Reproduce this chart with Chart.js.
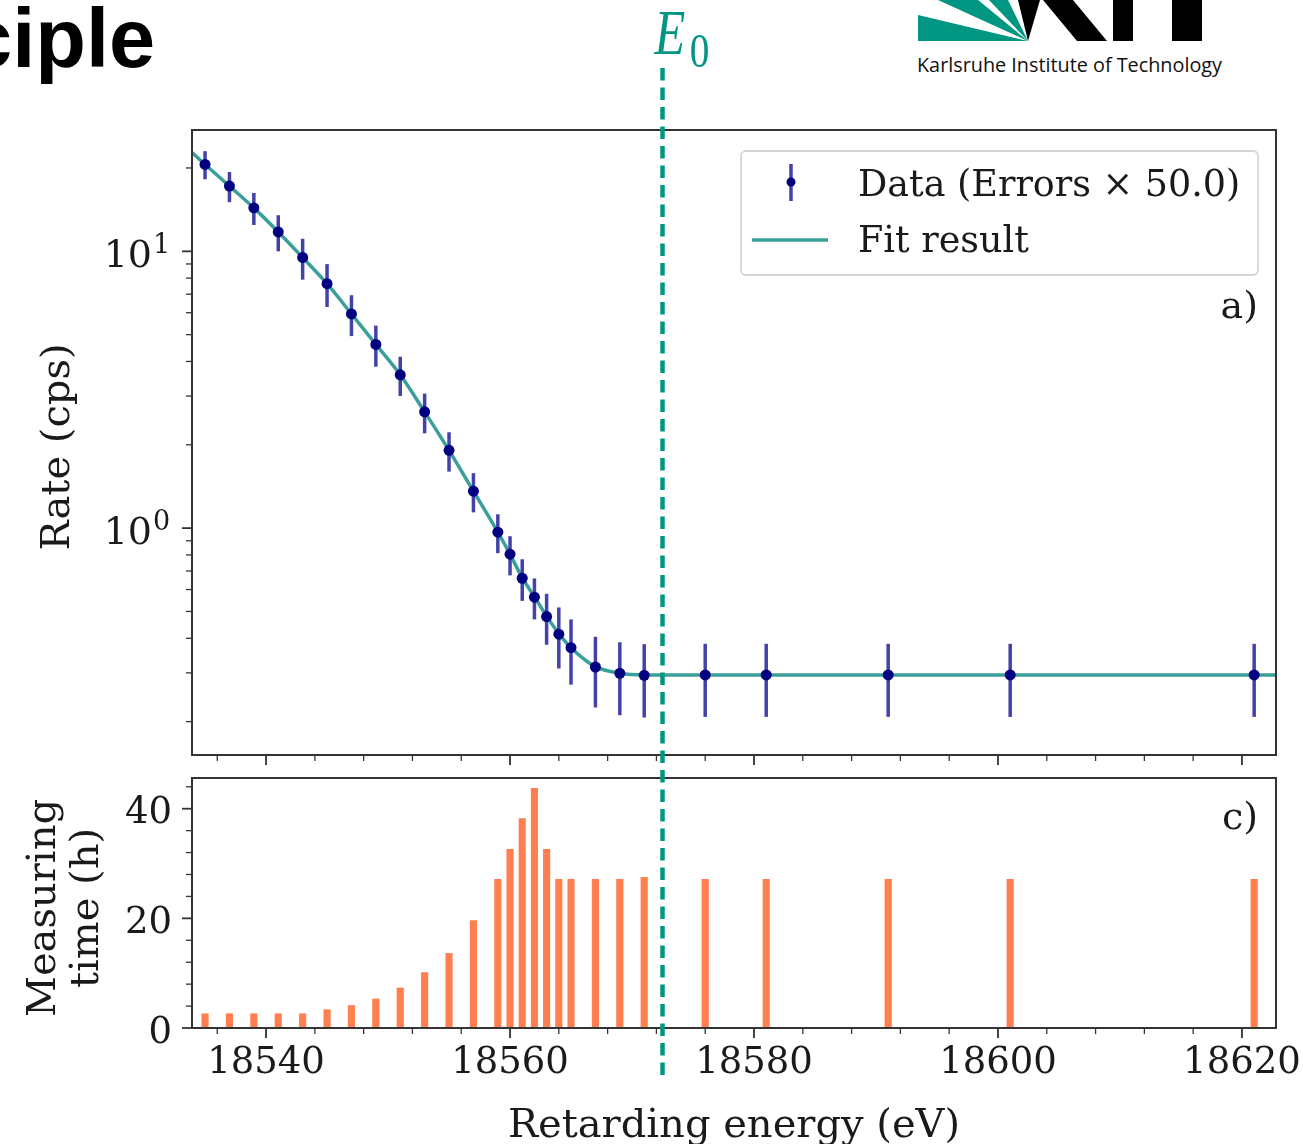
<!DOCTYPE html>
<html>
<head>
<meta charset="utf-8">
<script src="https://cdn.jsdelivr.net/npm/chart.js@4.4.1/dist/chart.umd.min.js"></script>
<style>
  html, body { margin: 0; padding: 0; background: #fff; }
  #page { position: relative; width: 1303px; height: 1144px; overflow: hidden; }
  #page svg, #page canvas { position: absolute; left: 0; top: 0; }
  #deco { z-index: 0; }
  #timeChart { z-index: 1; }
  #rateChart { z-index: 2; }
</style>
</head>
<body>
<div id="page">
  <svg id="deco" width="1303" height="1144">
    <text x="-34" y="67" font-family="Liberation Sans" font-weight="bold" font-size="83" fill="#000">ciple</text>
    <!-- KIT logo (top cut off) -->
    <polygon points="918,15 1028,41 918,41" fill="#009682"/>
    <polygon points="938,0 978,0 1028,41" fill="#009682"/>
    <polygon points="989,0 1008,0 1028,41" fill="#009682"/>
    <polygon points="1018,0 1040,0 1028,41" fill="#000"/>
    <polygon points="1043,0 1073,0 1107,41 1077,41" fill="#000"/>
    <rect x="1113" y="0" width="20" height="41" fill="#000"/>
    <rect x="1172" y="0" width="30" height="41" fill="#000"/>
    <text x="917" y="72" font-family="Open Sans" font-size="20" fill="#111" textLength="305" lengthAdjust="spacingAndGlyphs">Karlsruhe Institute of Technology</text>
  </svg>
  <canvas id="timeChart" width="1303" height="1144"></canvas>
  <canvas id="rateChart" width="1303" height="1144"></canvas>
</div>

<script>
// --- data ---
const energyEv = [18535, 18537, 18539, 18541, 18543, 18545, 18547, 18549, 18551, 18553, 18555, 18557, 18559,
                  18560, 18561, 18562, 18563, 18564, 18565, 18567, 18569, 18571, 18576, 18581, 18591, 18601, 18621];
const rateCps = [20.6, 17.2, 14.35, 11.75, 9.5, 7.64, 5.94, 4.61, 3.58, 2.63, 1.91, 1.36, 0.967,
                 0.805, 0.659, 0.563, 0.479, 0.414, 0.370, 0.315, 0.299, 0.294, 0.295, 0.295, 0.295, 0.295, 0.295];
// error bars (already x 50)
const rateErr = [2.4, 2.15, 1.9, 1.75, 1.6, 1.35, 1.0, 0.78, 0.58, 0.43, 0.31, 0.22, 0.155,
                 0.13, 0.113, 0.095, 0.10, 0.103, 0.098, 0.09, 0.088, 0.087, 0.087, 0.087, 0.087, 0.087, 0.087];
const timeHours = [2.6, 2.6, 2.6, 2.6, 2.6, 3.35, 4.1, 5.3, 7.3, 10.1, 13.6, 19.6, 27.1,
                   32.6, 38.2, 43.7, 32.6, 27.1, 27.1, 27.1, 27.1, 27.5, 27.1, 27.1, 27.1, 27.1, 27.1];
const fitEnergy = [18533.9, 18535, 18537, 18539, 18541, 18543, 18545, 18547, 18549, 18551, 18553, 18555, 18557,
                   18559, 18560, 18561, 18562, 18563, 18564, 18565, 18567, 18569, 18571, 18574, 18623];
const fitRate = [22.8, 20.6, 17.2, 14.35, 11.75, 9.5, 7.64, 5.94, 4.61, 3.58, 2.63, 1.91, 1.36,
                 0.967, 0.805, 0.662, 0.565, 0.481, 0.416, 0.37, 0.316, 0.299, 0.295, 0.295, 0.295];

const xTickValues = [18540, 18560, 18580, 18600, 18620];
const rateTickValues = [1, 10];
const rateTickLabels = [["10", "0"], ["10", "1"]];
const timeTickValues = [0, 20, 40];
const E0 = 18572.5;

// --- look ---
const serif = '"DejaVu Serif", serif';
const ink = "#1a1a1a";
const spine = "#333";
const navy = "#000080";
const errColor = "#4242a8";
const fitColor = "#3a9f9b";
const barColor = "#ff7f50";
const kitGreen = "#009682";
const X_MIN = 18533.93, X_MAX = 18622.79;

function drawFrame(ctx, a) {
  ctx.save();
  ctx.strokeStyle = spine;
  ctx.lineWidth = 2;
  ctx.strokeRect(a.left, a.top, a.right - a.left, a.bottom - a.top);
  ctx.restore();
}

function tick(ctx, x1, y1, x2, y2, w) {
  ctx.lineWidth = w;
  ctx.beginPath();
  ctx.moveTo(x1, y1);
  ctx.lineTo(x2, y2);
  ctx.stroke();
}

function drawEnergyTicks(ctx, chart) {
  const xs = chart.scales.x, a = chart.chartArea;
  ctx.save();
  ctx.strokeStyle = spine;
  for (let v = 18536; v <= X_MAX; v += 4) {
    const px = xs.getPixelForValue(v);
    const major = v % 20 === 0;
    tick(ctx, px, a.bottom, px, a.bottom + (major ? 10 : 6), major ? 1.8 : 1.3);
  }
  ctx.restore();
}

// ---------------- top panel: rate ----------------
const rateDecor = {
  id: "rateDecor",
  beforeDatasetDraw(chart, args) {
    if (args.index !== 1) return;
    const { ctx, chartArea: a, scales: { x, y } } = chart;
    ctx.save();
    ctx.beginPath();
    ctx.rect(a.left, a.top, a.right - a.left, a.bottom - a.top);
    ctx.clip();
    ctx.strokeStyle = errColor;
    ctx.lineWidth = 3.5;
    energyEv.forEach((e, i) => {
      const px = x.getPixelForValue(e);
      ctx.beginPath();
      ctx.moveTo(px, y.getPixelForValue(rateCps[i] + rateErr[i]));
      ctx.lineTo(px, y.getPixelForValue(rateCps[i] - rateErr[i]));
      ctx.stroke();
    });
    ctx.restore();
  },
  afterDraw(chart) {
    const { ctx, chartArea: a, scales: { x, y } } = chart;
    drawFrame(ctx, a);
    drawEnergyTicks(ctx, chart);

    // log ticks
    ctx.save();
    ctx.strokeStyle = spine;
    [0.1, 1, 10].forEach(dec => {
      for (let m = 1; m < 10; m++) {
        const v = m * dec;
        if (v < y.min || v > y.max) continue;
        const py = y.getPixelForValue(v);
        const major = m === 1;
        tick(ctx, a.left, py, a.left - (major ? 10 : 6), py, major ? 1.8 : 1.3);
      }
    });
    ctx.fillStyle = ink;
    rateTickValues.forEach((v, i) => {
      const py = y.getPixelForValue(v);
      ctx.font = "38px " + serif;
      ctx.textAlign = "right";
      ctx.textBaseline = "alphabetic";
      ctx.fillText(rateTickLabels[i][0], 152, py + 16);
      ctx.font = "27px " + serif;
      ctx.textAlign = "left";
      ctx.fillText(rateTickLabels[i][1], 153, py + 2);
    });

    // y title
    ctx.font = "40px " + serif;
    ctx.textAlign = "center";
    ctx.translate(69, 447);
    ctx.rotate(-Math.PI / 2);
    ctx.fillText("Rate (cps)", 0, 0);
    ctx.restore();

    // legend
    ctx.save();
    ctx.fillStyle = "rgba(255,255,255,0.8)";
    ctx.strokeStyle = "#d5d5d5";
    ctx.lineWidth = 1.8;
    ctx.beginPath();
    ctx.roundRect(741, 151, 517, 124, 5);
    ctx.fill();
    ctx.stroke();
    ctx.strokeStyle = errColor;
    tick(ctx, 791, 164, 791, 201, 3.5);
    ctx.fillStyle = navy;
    ctx.beginPath();
    ctx.arc(791, 182, 4.5, 0, Math.PI * 2);
    ctx.fill();
    ctx.strokeStyle = fitColor;
    tick(ctx, 752, 240, 828, 240, 3.5);
    ctx.fillStyle = ink;
    ctx.font = "36.5px " + serif;
    ctx.textAlign = "left";
    ctx.textBaseline = "alphabetic";
    ctx.fillText(chart.data.datasets[1].label, 858, 196);
    ctx.fillText(chart.data.datasets[0].label, 858, 252);
    ctx.font = "38px " + serif;
    ctx.textAlign = "right";
    ctx.fillText("a)", 1258, 318);
    ctx.restore();

    // E0 marker spanning both panels
    const ex = x.getPixelForValue(E0);
    ctx.save();
    ctx.strokeStyle = kitGreen;
    ctx.lineWidth = 4.5;
    ctx.setLineDash([12.5, 7]);
    ctx.beginPath();
    ctx.moveTo(ex, 68);
    ctx.lineTo(ex, 1078);
    ctx.stroke();
    ctx.fillStyle = kitGreen;
    ctx.textBaseline = "alphabetic";
    ctx.textAlign = "left";
    ctx.translate(ex - 8, 54);
    ctx.scale(0.8, 1);
    ctx.font = "italic 63px \"Liberation Serif\", serif";
    ctx.fillText("E", 0, 0);
    ctx.font = "49px \"Liberation Serif\", serif";
    ctx.fillText("0", 44, 13);
    ctx.restore();
  }
};

new Chart(document.getElementById("rateChart"), {
  type: "scatter",
  data: {
    datasets: [
      {
        type: "line",
        label: "Fit result",
        data: fitEnergy.map((e, i) => ({ x: e, y: fitRate[i] })),
        borderColor: fitColor,
        borderWidth: 3.5,
        pointRadius: 0,
        cubicInterpolationMode: "monotone",
        fill: false,
        order: 2
      },
      {
        label: "Data (Errors \u00d7 50.0)",
        data: energyEv.map((e, i) => ({ x: e, y: rateCps[i] })),
        backgroundColor: navy,
        borderColor: navy,
        borderWidth: 0,
        pointRadius: 5.5,
        order: 1
      }
    ]
  },
  options: {
    responsive: false,
    animation: false,
    events: [],
    layout: { padding: { left: 92, right: 27, top: 130, bottom: 369 } },
    plugins: { legend: { display: false }, tooltip: { enabled: false } },
    scales: {
      x: {
        type: "linear", min: X_MIN, max: X_MAX, bounds: "data",
        grid: { display: false, drawTicks: false }, border: { display: false },
        ticks: { display: false },
        afterBuildTicks: s => { s.ticks = xTickValues.map(v => ({ value: v })); },
        afterFit: s => { s.height = 20; s.paddingLeft = 0; s.paddingRight = 0; }
      },
      y: {
        type: "logarithmic", min: 0.1515, max: 27.43, bounds: "data",
        grid: { display: false, drawTicks: false }, border: { display: false },
        ticks: { display: false },
        afterBuildTicks: s => { s.ticks = rateTickValues.map(v => ({ value: v })); },
        afterFit: s => { s.width = 100; s.paddingTop = 0; s.paddingBottom = 0; }
      }
    }
  },
  plugins: [rateDecor]
});

// ---------------- bottom panel: measuring time ----------------
const timeDecor = {
  id: "timeDecor",
  afterDraw(chart) {
    const { ctx, chartArea: a, scales: { y } } = chart;
    drawFrame(ctx, a);
    drawEnergyTicks(ctx, chart);
    ctx.save();
    ctx.strokeStyle = spine;
    for (let v = 0; v <= y.max; v += 4) {
      const py = y.getPixelForValue(v);
      const major = v % 20 === 0;
      tick(ctx, a.left, py, a.left - (major ? 10 : 6), py, major ? 1.8 : 1.3);
    }
    ctx.fillStyle = ink;
    ctx.font = "38px " + serif;
    ctx.textAlign = "right";
    ctx.textBaseline = "alphabetic";
    ctx.fillText("c)", 1258, 829);

    ctx.font = "40px " + serif;
    ctx.textAlign = "center";
    ctx.fillText("Retarding energy (eV)", 734, 1137);
    ctx.translate(0, 908);
    ctx.rotate(-Math.PI / 2);
    ctx.fillText("Measuring", 0, 55);
    ctx.fillText("time (h)", 0, 98);
    ctx.restore();
  }
};

new Chart(document.getElementById("timeChart"), {
  type: "bar",
  data: {
    datasets: [{
      label: "Measuring time",
      data: energyEv.map((e, i) => ({ x: e, y: timeHours[i] })),
      backgroundColor: barColor,
      borderWidth: 0,
      barThickness: 6.5
    }]
  },
  options: {
    responsive: false,
    animation: false,
    events: [],
    layout: { padding: { left: 92, right: 27, top: 778, bottom: 0 } },
    plugins: { legend: { display: false }, tooltip: { enabled: false } },
    scales: {
      x: {
        type: "linear", min: X_MIN, max: X_MAX, bounds: "data", offset: false,
        grid: { display: false, drawTicks: false, offset: false }, border: { display: false },
        ticks: { color: ink, font: { family: serif, size: 37 }, padding: 13, maxRotation: 0, autoSkip: false,
                 callback: v => String(v) },
        afterBuildTicks: s => { s.ticks = xTickValues.map(v => ({ value: v })); },
        afterFit: s => { s.height = 116; s.paddingLeft = 0; s.paddingRight = 0; }
      },
      y: {
        type: "linear", min: 0, max: 45.6, bounds: "data",
        grid: { display: false, drawTicks: false }, border: { display: false },
        ticks: { color: ink, font: { family: serif, size: 37 }, padding: 20, labelOffset: 5,
                 callback: v => String(v) },
        afterBuildTicks: s => { s.ticks = timeTickValues.map(v => ({ value: v })); },
        afterFit: s => { s.width = 100; s.paddingTop = 0; s.paddingBottom = 0; }
      }
    }
  },
  plugins: [timeDecor]
});
</script>
</body>
</html>
